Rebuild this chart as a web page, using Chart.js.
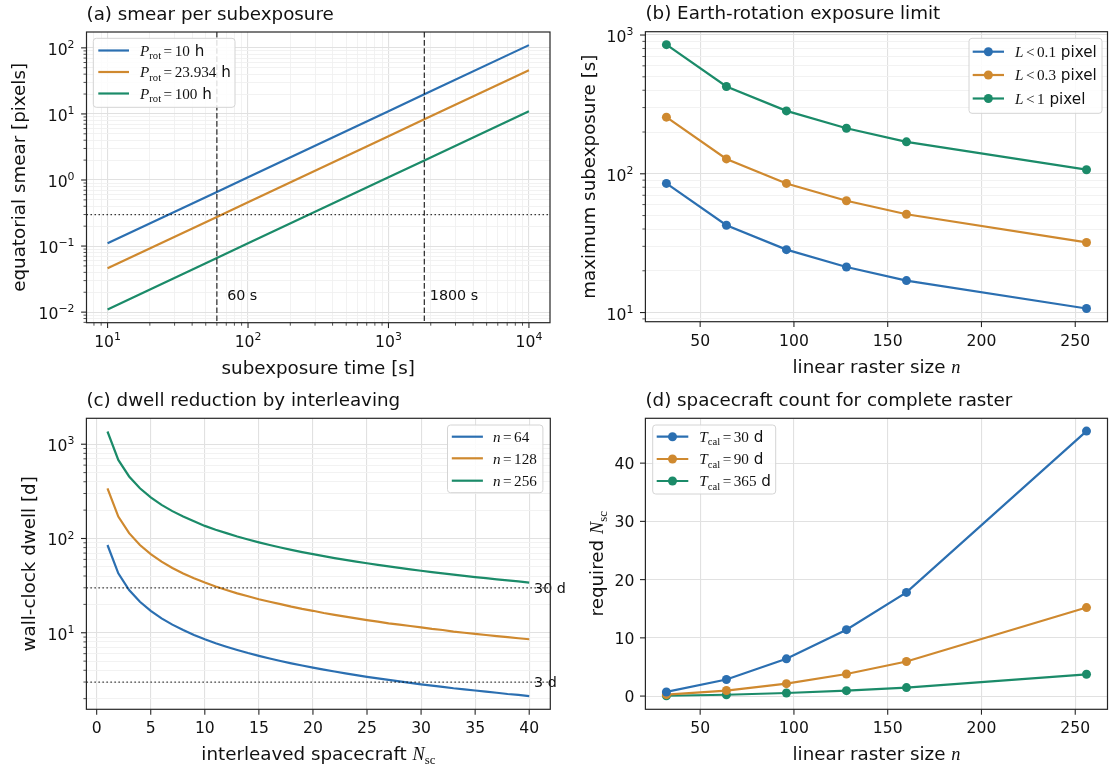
<!DOCTYPE html>
<html>
<head>
<meta charset="utf-8">
<script src="https://cdn.jsdelivr.net/npm/chart.js@4.4.1/dist/chart.umd.min.js"></script>
<style>
  body { margin: 0; background: #fff; }
  #wrap { position: relative; width: 1112px; height: 769px; background: #fff; overflow: hidden; }
  canvas { position: absolute; }
</style>
</head>
<body>
<div id="wrap">
  <canvas id="cA" width="575" height="385" style="left:0;top:0"></canvas>
  <canvas id="cB" width="537" height="385" style="left:575px;top:0"></canvas>
  <canvas id="cC" width="575" height="384" style="left:0;top:385px"></canvas>
  <canvas id="cD" width="537" height="384" style="left:575px;top:385px"></canvas>
</div>
<script>
// (a) smear vs subexposure time
const smearT = [10, 60, 100, 1000, 1800, 10000];
const smearP10 = [0.11, 0.66, 1.1, 11, 19.8, 110];
const smearP24 = [0.046, 0.276, 0.46, 4.6, 8.28, 46];
const smearP100 = [0.011, 0.066, 0.11, 1.1, 1.98, 11];
const smearLimit = [0.3];
const subexpMarks = [60, 1800];

// (b) max subexposure vs raster size
const rasterN = [32, 64, 96, 128, 160, 256];
const limit01 = [85.2, 42.6, 28.4, 21.3, 17.0, 10.7];
const limit03 = [256, 128, 85.2, 63.9, 51.1, 32.0];
const limit1 = [852, 426, 284, 213, 170, 107];

// (c) dwell vs number of spacecraft
const nsc = [1, 2, 3, 4, 5, 6, 7, 8, 9, 10, 11, 12, 13, 14, 15, 16, 17, 18, 19, 20,
  21, 22, 23, 24, 25, 26, 27, 28, 29, 30, 31, 32, 33, 34, 35, 36, 37, 38, 39, 40];
const dwell64 = [85.3, 42.7, 28.4, 21.3, 17.1, 14.2, 12.2, 10.7, 9.48, 8.53,
  7.75, 7.11, 6.56, 6.09, 5.69, 5.33, 5.02, 4.74, 4.49, 4.27,
  4.06, 3.88, 3.71, 3.55, 3.41, 3.28, 3.16, 3.05, 2.94, 2.84,
  2.75, 2.67, 2.58, 2.51, 2.44, 2.37, 2.31, 2.24, 2.19, 2.13];
const dwell128 = [341, 171, 114, 85.3, 68.2, 56.8, 48.7, 42.6, 37.9, 34.1,
  31.0, 28.4, 26.2, 24.4, 22.7, 21.3, 20.1, 18.9, 17.9, 17.1,
  16.2, 15.5, 14.8, 14.2, 13.6, 13.1, 12.6, 12.2, 11.8, 11.4,
  11.0, 10.7, 10.3, 10.0, 9.74, 9.47, 9.22, 8.97, 8.74, 8.53];
const dwell256 = [1365, 682, 455, 341, 273, 227, 195, 171, 152, 136,
  124, 114, 105, 97.5, 91.0, 85.3, 80.3, 75.8, 71.8, 68.2,
  65.0, 62.0, 59.3, 56.9, 54.6, 52.5, 50.6, 48.8, 47.1, 45.5,
  44.0, 42.7, 41.4, 40.1, 39.0, 37.9, 36.9, 35.9, 35.0, 34.1];
const dwellMarks = [30, 3];

// (d) spacecraft count vs raster size
const count30 = [0.71, 2.84, 6.4, 11.4, 17.8, 45.5];
const count90 = [0.24, 0.95, 2.13, 3.79, 5.93, 15.2];
const count365 = [0.06, 0.23, 0.53, 0.93, 1.46, 3.74];

// tick labels
const linTicksN = [50, 100, 150, 200, 250];
const linTicksNsc = [0, 5, 10, 15, 20, 25, 30, 35, 40];
const linTicksCount = [0, 10, 20, 30, 40];

const BLUE = '#2b6fb1', ORANGE = '#cf892f', GREEN = '#1b8b69';
const SANS = '"DejaVu Sans", sans-serif';
const SERIF = '"Liberation Serif", "DejaVu Serif", serif';
const INK = '#111';
const LEG = 15.2;

function segFont(k, size) {
  if (k === 's') return size + 'px ' + SANS;
  if (k === 'r') return size + 'px ' + SERIF;
  if (k === 'i') return 'italic ' + size + 'px ' + SERIF;
  if (k === 'sub') return (size * 0.7) + 'px ' + SERIF;
  return (size * 0.7) + 'px ' + SANS; // sup
}
function segDy(k, size) {
  return k === 'sub' ? size * 0.22 : k === 'sup' ? -size * 0.44 : 0;
}
function richText(ctx, segs, x, y, size, align) {
  let w = 0;
  segs.forEach(s => { ctx.font = segFont(s.k, size); w += (s.gap || 0) * 2 + ctx.measureText(s.t).width; });
  let cx = align === 'center' ? x - w / 2 : align === 'right' ? x - w : x;
  ctx.textAlign = 'left';
  ctx.textBaseline = 'alphabetic';
  ctx.fillStyle = INK;
  segs.forEach(s => {
    ctx.font = segFont(s.k, size);
    cx += s.gap || 0;
    ctx.fillText(s.t, cx, y + segDy(s.k, size));
    cx += ctx.measureText(s.t).width + (s.gap || 0);
  });
}

function logTicks(min, max) {
  const out = [];
  for (let e = Math.floor(Math.log10(min)); e <= Math.ceil(Math.log10(max)); e++) {
    for (let m = 1; m <= 9; m++) {
      const v = m * Math.pow(10, e);
      if (v >= min && v <= max) out.push({ value: v, mj: m === 1 });
    }
  }
  return out;
}
function linTicks(list) { return list.map(v => ({ value: v, mj: true })); }

function tickLabel(v, isLog) {
  if (!isLog) return [{ t: String(v), k: 's' }];
  const e = Math.round(Math.log10(v));
  return [{ t: '10', k: 's' }, { t: (e < 0 ? '\u2212' : '') + Math.abs(e), k: 'sup' }];
}

function drawLegend(ctx, lg) {
  const b = lg.box;
  ctx.save();
  ctx.fillStyle = 'rgba(255,255,255,0.85)';
  ctx.strokeStyle = '#d4d4d4';
  ctx.lineWidth = 1;
  ctx.beginPath();
  ctx.roundRect(b[0], b[1], b[2] - b[0], b[3] - b[1], 3);
  ctx.fill();
  ctx.stroke();
  lg.items.forEach((it, i) => {
    const y = lg.rows[i];
    ctx.strokeStyle = it.color;
    ctx.lineWidth = 2.2;
    ctx.beginPath();
    ctx.moveTo(lg.line[0], y);
    ctx.lineTo(lg.line[1], y);
    ctx.stroke();
    if (lg.marker) {
      ctx.fillStyle = it.color;
      ctx.beginPath();
      ctx.arc((lg.line[0] + lg.line[1]) / 2, y, 4.5, 0, Math.PI * 2);
      ctx.fill();
    }
    richText(ctx, it.segs, lg.text, y + 5.3, LEG, 'left');
  });
  ctx.restore();
}

function decor(d) {
  return {
    id: 'decor',
    afterDatasetsDraw(chart) {
      const { ctx, chartArea: a, scales: { x, y } } = chart;
      ctx.save();
      ctx.beginPath();
      ctx.rect(a.left, a.top, a.right - a.left, a.bottom - a.top);
      ctx.clip();
      ctx.strokeStyle = 'rgba(0,0,0,0.78)';
      ctx.lineWidth = 1.3;
      (d.vlines || []).forEach(v => {
        const px = x.getPixelForValue(v);
        ctx.setLineDash([5.6, 2.5]);
        ctx.beginPath(); ctx.moveTo(px, a.top); ctx.lineTo(px, a.bottom); ctx.stroke();
      });
      (d.hlines || []).forEach(v => {
        const py = y.getPixelForValue(v);
        ctx.setLineDash([1.5, 2.5]);
        ctx.beginPath(); ctx.moveTo(a.left, py); ctx.lineTo(a.right, py); ctx.stroke();
      });
      ctx.restore();
    },
    afterDraw(chart) {
      const { ctx, chartArea: a, scales: { x, y } } = chart;
      ctx.save();
      // notes
      (d.notes || []).forEach(n => {
        const px = x.getPixelForValue(n.x), py = y.getPixelForValue(n.y);
        richText(ctx, [{ t: n.t, k: 's' }], px, py + 5, 14.3, 'left');
      });
      // frame
      ctx.strokeStyle = '#262626';
      ctx.lineWidth = 1.2;
      ctx.strokeRect(a.left, a.top, a.right - a.left, a.bottom - a.top);
      // ticks
      const xLog = x.type === 'logarithmic', yLog = y.type === 'logarithmic';
      x.ticks.forEach(t => {
        const px = x.getPixelForValue(t.value);
        const len = t.mj ? 5.4 : 3;
        ctx.strokeStyle = '#262626';
        ctx.lineWidth = t.mj ? 1.1 : 0.8;
        ctx.beginPath(); ctx.moveTo(px, a.bottom); ctx.lineTo(px, a.bottom + len); ctx.stroke();
        if (t.mj) richText(ctx, tickLabel(t.value, xLog), px, a.bottom + 24, 15.6, 'center');
      });
      y.ticks.forEach(t => {
        const py = y.getPixelForValue(t.value);
        const len = t.mj ? 5.4 : 3;
        ctx.strokeStyle = '#262626';
        ctx.lineWidth = t.mj ? 1.1 : 0.8;
        ctx.beginPath(); ctx.moveTo(a.left, py); ctx.lineTo(a.left - len, py); ctx.stroke();
        if (t.mj) richText(ctx, tickLabel(t.value, yLog), a.left - (yLog ? 12 : 11), py + (yLog ? 7 : 6), 15.6, 'right');
      });
      // title
      richText(ctx, [{ t: d.title, k: 's' }], a.left, a.top - 12.5, 18.3, 'left');
      // axis labels
      richText(ctx, d.xLabel, (a.left + a.right) / 2, a.bottom + 44.5 + 6.4, 18.3, 'center');
      ctx.save();
      ctx.translate(d.yLabelX, (a.top + a.bottom) / 2);
      ctx.rotate(-Math.PI / 2);
      richText(ctx, d.yLabel, 0, 6.4, 18.3, 'center');
      ctx.restore();
      drawLegend(ctx, d.legend);
      ctx.restore();
    }
  };
}

function series(xs, ys, color, markers) {
  return {
    data: xs.map((v, i) => ({ x: v, y: ys[i] })),
    borderColor: color, backgroundColor: color,
    borderWidth: 2.2, pointRadius: markers ? 4.5 : 0, pointBorderWidth: 0,
    pointHoverRadius: 0, tension: 0, fill: false
  };
}

function gridOpts() {
  return {
    drawTicks: false,
    color: c => (c.tick && c.tick.mj) ? '#e1e1e1' : '#f1f1f1',
    lineWidth: c => (c.tick && c.tick.mj) ? 1.1 : 0.9
  };
}

function makeChart(id, p) {
  new Chart(document.getElementById(id), {
    type: 'line',
    data: { datasets: p.datasets },
    options: {
      responsive: false, animation: false, devicePixelRatio: 1, events: [],
      layout: { padding: p.pad },
      plugins: { legend: { display: false }, tooltip: { enabled: false } },
      scales: {
        x: {
          type: p.xType, min: p.xMin, max: p.xMax,
          afterBuildTicks: s => { s.ticks = p.xTicks; },
          afterFit: s => { s.height = p.xH; },
          grid: gridOpts(), border: { display: false }, ticks: { display: false }
        },
        y: {
          type: p.yType, min: p.yMin, max: p.yMax,
          afterBuildTicks: s => { s.ticks = p.yTicks; },
          afterFit: s => { s.width = p.yW; },
          grid: gridOpts(), border: { display: false }, ticks: { display: false }
        }
      }
    },
    plugins: [decor(p.decor)]
  });
}

const nLabel = [{ t: 'linear raster size ', k: 's' }, { t: 'n', k: 'i' }];
const EQ = { t: '=', k: 'r', gap: 2.5 };

// (a)
const aX = [Math.pow(10, 0.85), Math.pow(10, 4.15)];
const aY = [Math.pow(10, -2.16), Math.pow(10, 2.24)];
makeChart('cA', {
  datasets: [series(smearT, smearP10, BLUE), series(smearT, smearP24, ORANGE), series(smearT, smearP100, GREEN)],
  xType: 'logarithmic', xMin: aX[0], xMax: aX[1], xTicks: logTicks(aX[0], aX[1]),
  yType: 'logarithmic', yMin: aY[0], yMax: aY[1], yTicks: logTicks(aY[0], aY[1]),
  pad: { top: 32, right: 25, bottom: 0, left: 0 }, yW: 86.5, xH: 62.3,
  decor: {
    title: '(a) smear per subexposure',
    xLabel: [{ t: 'subexposure time [s]', k: 's' }],
    yLabel: [{ t: 'equatorial smear [pixels]', k: 's' }], yLabelX: 19,
    vlines: subexpMarks, hlines: smearLimit,
    notes: [{ x: 71, y: 0.018, t: '60 s' }, { x: 1970, y: 0.018, t: '1800 s' }],
    legend: {
      box: [93.3, 38.3, 235, 107.3], rows: [50.5, 72, 93.5], line: [98.3, 129], text: 140, marker: false,
      items: [
        { color: BLUE, segs: [{ t: 'P', k: 'i' }, { t: 'rot', k: 'sub' }, EQ, { t: '10', k: 'r' }, { t: ' h', k: 's' }] },
        { color: ORANGE, segs: [{ t: 'P', k: 'i' }, { t: 'rot', k: 'sub' }, EQ, { t: '23.934', k: 'r' }, { t: ' h', k: 's' }] },
        { color: GREEN, segs: [{ t: 'P', k: 'i' }, { t: 'rot', k: 'sub' }, EQ, { t: '100', k: 'r' }, { t: ' h', k: 's' }] }
      ]
    }
  }
});

// (b)
const bY = [Math.pow(10, 0.934), Math.pow(10, 3.024)];
const LT = { t: '<', k: 'r', gap: 2.5 };
makeChart('cB', {
  datasets: [series(rasterN, limit01, BLUE, true), series(rasterN, limit03, ORANGE, true), series(rasterN, limit1, GREEN, true)],
  xType: 'linear', xMin: 20.8, xMax: 267.2, xTicks: linTicks(linTicksN),
  yType: 'logarithmic', yMin: bY[0], yMax: bY[1], yTicks: logTicks(bY[0], bY[1]),
  pad: { top: 31.7, right: 2, bottom: 0, left: 0 }, yW: 70.4, xH: 63.3,
  decor: {
    title: '(b) Earth-rotation exposure limit',
    xLabel: nLabel,
    yLabel: [{ t: 'maximum subexposure [s]', k: 's' }], yLabelX: 13.8,
    legend: {
      box: [394, 38.3, 527, 113.3], rows: [51.7, 75, 98.5], line: [397.7, 429], text: 440, marker: true,
      items: [
        { color: BLUE, segs: [{ t: 'L', k: 'i' }, LT, { t: '0.1', k: 'r' }, { t: ' pixel', k: 's' }] },
        { color: ORANGE, segs: [{ t: 'L', k: 'i' }, LT, { t: '0.3', k: 'r' }, { t: ' pixel', k: 's' }] },
        { color: GREEN, segs: [{ t: 'L', k: 'i' }, LT, { t: '1', k: 'r' }, { t: ' pixel', k: 's' }] }
      ]
    }
  }
});

// (c)
const cY = [Math.pow(10, 0.188), Math.pow(10, 3.275)];
makeChart('cC', {
  datasets: [series(nsc, dwell64, BLUE), series(nsc, dwell128, ORANGE), series(nsc, dwell256, GREEN)],
  xType: 'linear', xMin: -0.95, xMax: 41.95, xTicks: linTicks(linTicksNsc),
  yType: 'logarithmic', yMin: cY[0], yMax: cY[1], yTicks: logTicks(cY[0], cY[1]),
  pad: { top: 33.3, right: 24.7, bottom: 0, left: 0 }, yW: 86.4, xH: 59.7,
  decor: {
    title: '(c) dwell reduction by interleaving',
    xLabel: [{ t: 'interleaved spacecraft ', k: 's' }, { t: 'N', k: 'i' }, { t: 'sc', k: 'sub' }],
    yLabel: [{ t: 'wall-clock dwell [d]', k: 's' }], yLabelX: 28.6,
    hlines: dwellMarks,
    notes: [{ x: 40.45, y: 30, t: '30 d' }, { x: 40.45, y: 3, t: '3 d' }],
    legend: {
      box: [447.5, 40, 542.9, 107.7], rows: [51.7, 73.3, 95.7], line: [451.8, 482.9], text: 492.9, marker: false,
      items: [
        { color: BLUE, segs: [{ t: 'n', k: 'i' }, EQ, { t: '64', k: 'r' }] },
        { color: ORANGE, segs: [{ t: 'n', k: 'i' }, EQ, { t: '128', k: 'r' }] },
        { color: GREEN, segs: [{ t: 'n', k: 'i' }, EQ, { t: '256', k: 'r' }] }
      ]
    }
  }
});

// (d)
makeChart('cD', {
  datasets: [series(rasterN, count30, BLUE, true), series(rasterN, count90, ORANGE, true), series(rasterN, count365, GREEN, true)],
  xType: 'linear', xMin: 20.8, xMax: 267.2, xTicks: linTicks(linTicksN),
  yType: 'linear', yMin: -2.27, yMax: 47.7, yTicks: linTicks(linTicksCount),
  pad: { top: 33.3, right: 2, bottom: 0, left: 0 }, yW: 70.4, xH: 59.7,
  decor: {
    title: '(d) spacecraft count for complete raster',
    xLabel: nLabel,
    yLabel: [{ t: 'required ', k: 's' }, { t: 'N', k: 'i' }, { t: 'sc', k: 'sub' }], yLabelX: 21.8,
    legend: {
      box: [77.7, 40, 200.7, 109], rows: [51.7, 74, 96], line: [81.7, 113.3], text: 124.3, marker: true,
      items: [
        { color: BLUE, segs: [{ t: 'T', k: 'i' }, { t: 'cal', k: 'sub' }, EQ, { t: '30', k: 'r' }, { t: ' d', k: 's' }] },
        { color: ORANGE, segs: [{ t: 'T', k: 'i' }, { t: 'cal', k: 'sub' }, EQ, { t: '90', k: 'r' }, { t: ' d', k: 's' }] },
        { color: GREEN, segs: [{ t: 'T', k: 'i' }, { t: 'cal', k: 'sub' }, EQ, { t: '365', k: 'r' }, { t: ' d', k: 's' }] }
      ]
    }
  }
});
</script>
</body>
</html>
